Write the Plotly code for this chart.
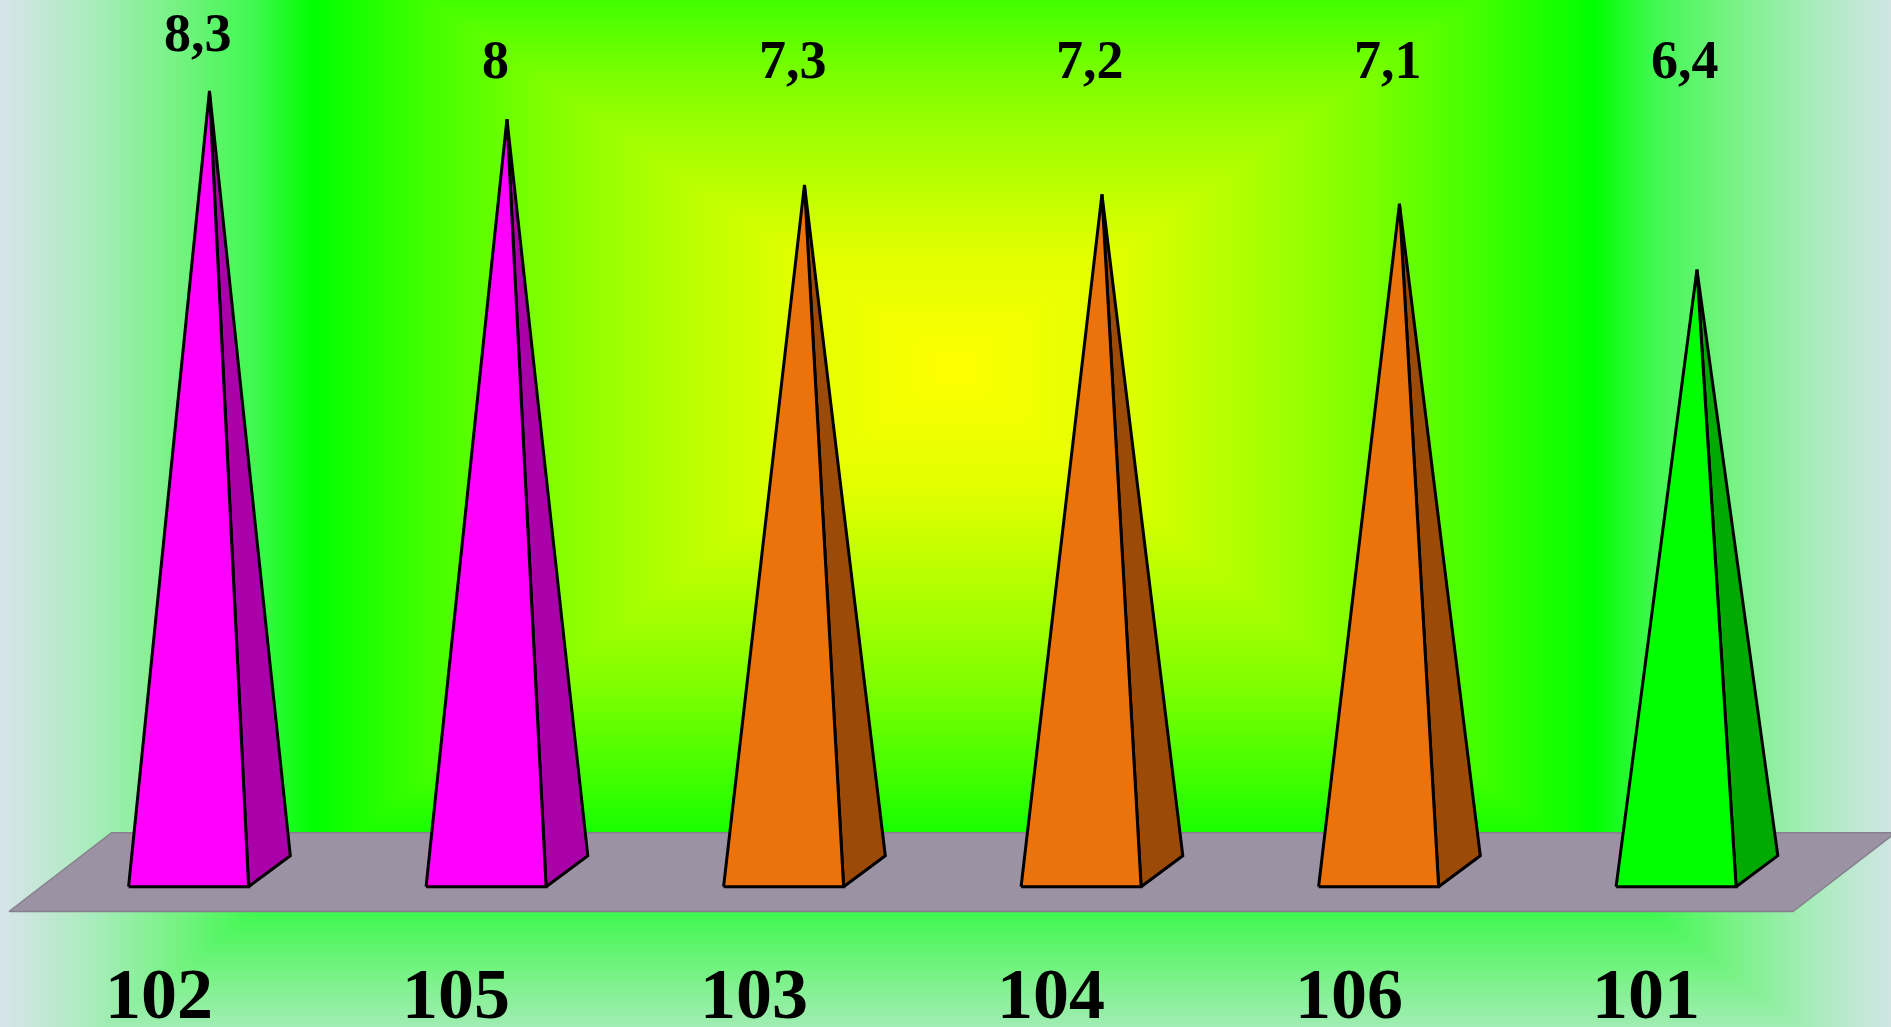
import numpy as np
import plotly.graph_objects as go

# ---------------- data ----------------
categories = ["102", "105", "103", "104", "106", "101"]
values = [8.3, 8.0, 7.3, 7.2, 7.1, 6.4]

# ---------------- styles ----------------
W, H = 1891, 1027
PX_PER_X = 297.5          # pixels per category step
PX_PER_Y = 94.0           # pixels per value unit
X0_PX = 188.6             # pixel x of first category (front face centre)
Y0_PX = 871.2             # pixel y of value zero (base centre)

HALF_W = 60 / PX_PER_X
DEPTH_X = 41.7 / PX_PER_X
DEPTH_Y = 31.0 / PX_PER_Y
FRONT_Y = -DEPTH_Y / 2

FLOOR_FRONT_Y = (Y0_PX - 911.5) / PX_PER_Y
FLOOR_BACK_Y = (Y0_PX - 832.7) / PX_PER_Y
FLOOR_LEFT = (9 - X0_PX) / PX_PER_X
FLOOR_RIGHT = (1793 - X0_PX) / PX_PER_X
FLOOR_DX = 102.6 / PX_PER_X

x_range = [(0 - X0_PX) / PX_PER_X, (W - X0_PX) / PX_PER_X]
y_range = [(Y0_PX - H) / PX_PER_Y, Y0_PX / PX_PER_Y]


def colors_for(v):
    if v >= 8:
        return "#FF00FF", "#AA00AA"
    if v >= 7:
        return "#EC730C", "#9C4A08"
    return "#00FF00", "#00AA00"


def fmt(v):
    return (f"{v:g}").replace(".", ",")


fig = go.Figure()

# ---------------- background gradient (rectangular path gradient) ----------------
gx_px = np.arange(-8, W + 9, 8.0)
gy_px = np.arange(-8, H + 9, 8.0)
CX, CY = 953.0, 365.0
dx = np.abs(gx_px[None, :] - CX)
dyp = gy_px[:, None] - CY
dy = np.where(dyp < 0, -dyp * 1.44, dyp * 1.28)
dist = np.maximum(dx, dy)
bg_scale = [
    [0.0, "#FFFF00"], [0.165, "#E0FF00"], [0.347, "#99FF00"], [0.408, "#80FF00"],
    [0.529, "#40FF00"], [0.64, "#00FF00"], [0.70, "#40F850"], [0.78, "#78F285"],
    [0.86, "#A8ECBC"], [0.953, "#D8E4EA"], [1.0, "#DDE3EE"],
]
fig.add_trace(go.Heatmap(
    x=(gx_px - X0_PX) / PX_PER_X,
    y=(Y0_PX - gy_px) / PX_PER_Y,
    z=dist, zmin=0, zmax=1000, colorscale=bg_scale, zsmooth="best",
    showscale=False, hoverinfo="skip",
))

# ---------------- floor ----------------
fig.add_trace(go.Scatter(
    x=[FLOOR_LEFT, FLOOR_RIGHT, FLOOR_RIGHT + FLOOR_DX, FLOOR_LEFT + FLOOR_DX, FLOOR_LEFT],
    y=[FLOOR_FRONT_Y, FLOOR_FRONT_Y, FLOOR_BACK_Y, FLOOR_BACK_Y, FLOOR_FRONT_Y],
    mode="lines", fill="toself", fillcolor="#9B93A4",
    line=dict(color="#85808C", width=1.5), hoverinfo="skip", showlegend=False,
))

# ---------------- pyramids ----------------
for i, v in enumerate(values):
    front, side = colors_for(v)
    ax = i + DEPTH_X / 2
    # side face
    fig.add_trace(go.Scatter(
        x=[i + HALF_W, i + HALF_W + DEPTH_X, ax, i + HALF_W],
        y=[FRONT_Y, FRONT_Y + DEPTH_Y, v, FRONT_Y],
        mode="lines", fill="toself", fillcolor=side,
        line=dict(color="black", width=3), hoverinfo="skip", showlegend=False,
    ))
    # front face
    fig.add_trace(go.Scatter(
        x=[i - HALF_W, i + HALF_W, ax, i - HALF_W],
        y=[FRONT_Y, FRONT_Y, v, FRONT_Y],
        mode="lines", fill="toself", fillcolor=front,
        line=dict(color="black", width=3), hoverinfo="skip", showlegend=False,
    ))

annotations = []
for i, (c, v) in enumerate(zip(categories, values)):
    annotations.append(dict(
        x=i, y=max(v + 0.62, 8.63), xref="x", yref="y", text=fmt(v),
        showarrow=False, xshift=9,
        font=dict(family="Liberation Serif", size=54, color="black", weight="bold"),
    ))
    annotations.append(dict(
        x=i, y=(Y0_PX - 994) / PX_PER_Y, xref="x", yref="y", text=c,
        showarrow=False, xshift=-30,
        font=dict(family="Liberation Serif", size=72, color="black", weight="bold"),
    ))

fig.update_layout(
    width=W, height=H,
    margin=dict(l=0, r=0, t=0, b=0, pad=0),
    paper_bgcolor="#00FF00", plot_bgcolor="#00FF00",
    showlegend=False,
    xaxis=dict(range=x_range, visible=False, fixedrange=True, showgrid=False, zeroline=False),
    yaxis=dict(range=y_range, visible=False, fixedrange=True, showgrid=False, zeroline=False),
    annotations=annotations,
)

fig.write_html(
    "out.html",
    config={"displayModeBar": False},
    post_script="document.body.style.margin='0';document.body.style.overflow='hidden';",
)
